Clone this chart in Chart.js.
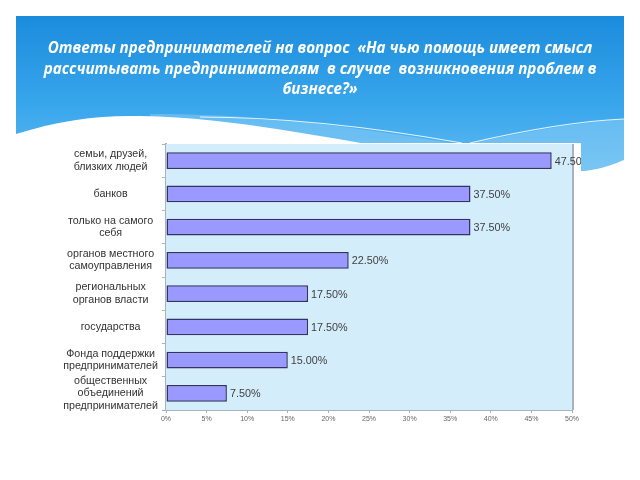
<!DOCTYPE html>
<html>
<head>
<meta charset="utf-8">
<script src="https://cdn.jsdelivr.net/npm/chart.js@4/dist/chart.umd.min.js"></script>
<style>
  html, body { margin: 0; padding: 0; background: #ffffff; }
  #wrap { position: relative; width: 640px; height: 480px; }
  canvas { display: block; }
</style>
</head>
<body>
<div id="wrap"><canvas id="c" width="640" height="480"></canvas></div>
<script>
const titleLines = [
  "Ответы предпринимателей на вопрос  «На чью помощь имеет смысл",
  "рассчитывать предпринимателям  в случае  возникновения проблем в",
  "бизнесе?»"
];
const categories = [
  ["семьи, друзей,", "близких людей"],
  ["банков"],
  ["только на самого", "себя"],
  ["органов местного", "самоуправления"],
  ["региональных", "органов власти"],
  ["государства"],
  ["Фонда поддержки", "предпринимателей"],
  ["общественных", "объединений", "предпринимателей"]
];
const shares = [47.5, 37.5, 37.5, 22.5, 17.5, 17.5, 15.0, 7.5];
const axisMax = 50;
const axisStep = 5;

const backdrop = {
  id: 'backdrop',
  beforeDraw(chart) {
    const ctx = chart.ctx;
    ctx.save();
    ctx.fillStyle = '#ffffff';
    ctx.fillRect(0, 0, 640, 480);
    // blue header band
    const g = ctx.createLinearGradient(0, 16, 0, 200);
    g.addColorStop(0, '#1b8cdd');
    g.addColorStop(0.5, '#3aa7ec');
    g.addColorStop(1, '#6fc4f4');
    ctx.fillStyle = g;
    ctx.fillRect(16, 16, 608, 190);
    // lighter wave band
    ctx.fillStyle = 'rgba(160,215,248,0.4)';
    ctx.beginPath();
    ctx.moveTo(150, 114);
    ctx.bezierCurveTo(300, 114, 400, 136, 465, 145);
    ctx.bezierCurveTo(530, 130, 590, 121, 624, 119);
    ctx.lineTo(624, 220);
    ctx.lineTo(150, 220);
    ctx.closePath();
    ctx.fill();
    // white wave
    ctx.fillStyle = '#ffffff';
    ctx.beginPath();
    ctx.moveTo(16, 134);
    ctx.bezierCurveTo(60, 120, 100, 115, 140, 116);
    ctx.bezierCurveTo(240, 118, 320, 138, 420, 152);
    ctx.bezierCurveTo(500, 164, 560, 172, 585, 171);
    ctx.bezierCurveTo(602, 169, 614, 164, 624, 160);
    ctx.lineTo(640, 160);
    ctx.lineTo(640, 480);
    ctx.lineTo(0, 480);
    ctx.lineTo(0, 134);
    ctx.closePath();
    ctx.fill();
    // thin white lines
    ctx.strokeStyle = 'rgba(255,255,255,0.85)';
    ctx.lineWidth = 1.2;
    ctx.beginPath();
    ctx.moveTo(200, 117);
    ctx.bezierCurveTo(300, 117, 400, 132, 462, 143);
    ctx.stroke();
    ctx.beginPath();
    ctx.moveTo(470, 143);
    ctx.bezierCurveTo(530, 129, 580, 121, 624, 119);
    ctx.stroke();
    // white chart picture area
    ctx.fillStyle = '#ffffff';
    ctx.fillRect(40, 143, 541, 290);
    // title
    ctx.fillStyle = '#ffffff';
    ctx.font = 'italic bold 15.2px "Open Sans", "Liberation Sans", sans-serif';
    ctx.textAlign = 'center';
    ctx.textBaseline = 'middle';
    const ys = [49, 70, 90];
    titleLines.forEach((t, i) => ctx.fillText(t, 320, ys[i]));
    ctx.restore();
  },
  beforeDatasetsDraw(chart) {
    const { ctx, chartArea: a } = chart;
    ctx.save();
    ctx.fillStyle = '#d4edfb';
    ctx.fillRect(a.left, a.top, a.right - a.left, a.bottom - a.top);
    ctx.strokeStyle = '#a9b3bd';
    ctx.lineWidth = 2;
    ctx.beginPath();
    ctx.moveTo(a.right + 1, a.top);
    ctx.lineTo(a.right + 1, a.bottom);
    ctx.stroke();
    ctx.restore();
  }
};

const valueLabels = {
  id: 'valueLabels',
  afterDatasetsDraw(chart) {
    const ctx = chart.ctx;
    const meta = chart.getDatasetMeta(0);
    ctx.save();
    ctx.beginPath();
    ctx.rect(0, 0, 581, 480);
    ctx.clip();
    ctx.fillStyle = '#404040';
    ctx.font = '10.8px "Liberation Sans", Arial, sans-serif';
    ctx.textAlign = 'left';
    ctx.textBaseline = 'middle';
    meta.data.forEach((bar, i) => {
      ctx.fillText(shares[i].toFixed(2) + '%', bar.x + 3, bar.y + 1);
    });
    ctx.restore();
  }
};

new Chart(document.getElementById('c'), {
  type: 'bar',
  data: {
    labels: categories,
    datasets: [{
      data: shares,
      backgroundColor: '#9999ff',
      borderColor: '#333366',
      borderWidth: 1.5,
      borderSkipped: false,
      barPercentage: 0.5,
      categoryPercentage: 1.0
    }]
  },
  options: {
    indexAxis: 'y',
    responsive: false,
    animation: false,
    events: [],
    layout: { padding: { top: 144, right: 68, bottom: 50, left: 0 } },
    plugins: { legend: { display: false }, tooltip: { enabled: false }, title: { display: false } },
    scales: {
      x: {
        min: 0, max: axisMax,
        afterFit(s) { s.height = 20; },
        ticks: {
          stepSize: axisStep,
          padding: 2,
          color: '#666666',
          font: { family: '"Liberation Sans", Arial, sans-serif', size: 7 },
          callback: v => v + '%'
        },
        grid: { drawOnChartArea: false, drawTicks: true, tickLength: 3, color: '#a9b3bd' },
        border: { display: true, color: '#a9b3bd', width: 2 }
      },
      y: {
        afterFit(s) { s.width = 166; },
        ticks: {
          crossAlign: 'center',
          padding: 4,
          color: '#333333',
          font: { family: '"Liberation Sans", Arial, sans-serif', size: 10.7, lineHeight: 1.15 },
          autoSkip: false
        },
        grid: { drawOnChartArea: false, drawTicks: true, tickLength: 4, color: '#a9b3bd', offset: true },
        border: { display: true, color: '#a9b3bd', width: 2 }
      }
    }
  },
  plugins: [backdrop, valueLabels]
});
</script>
</body>
</html>
